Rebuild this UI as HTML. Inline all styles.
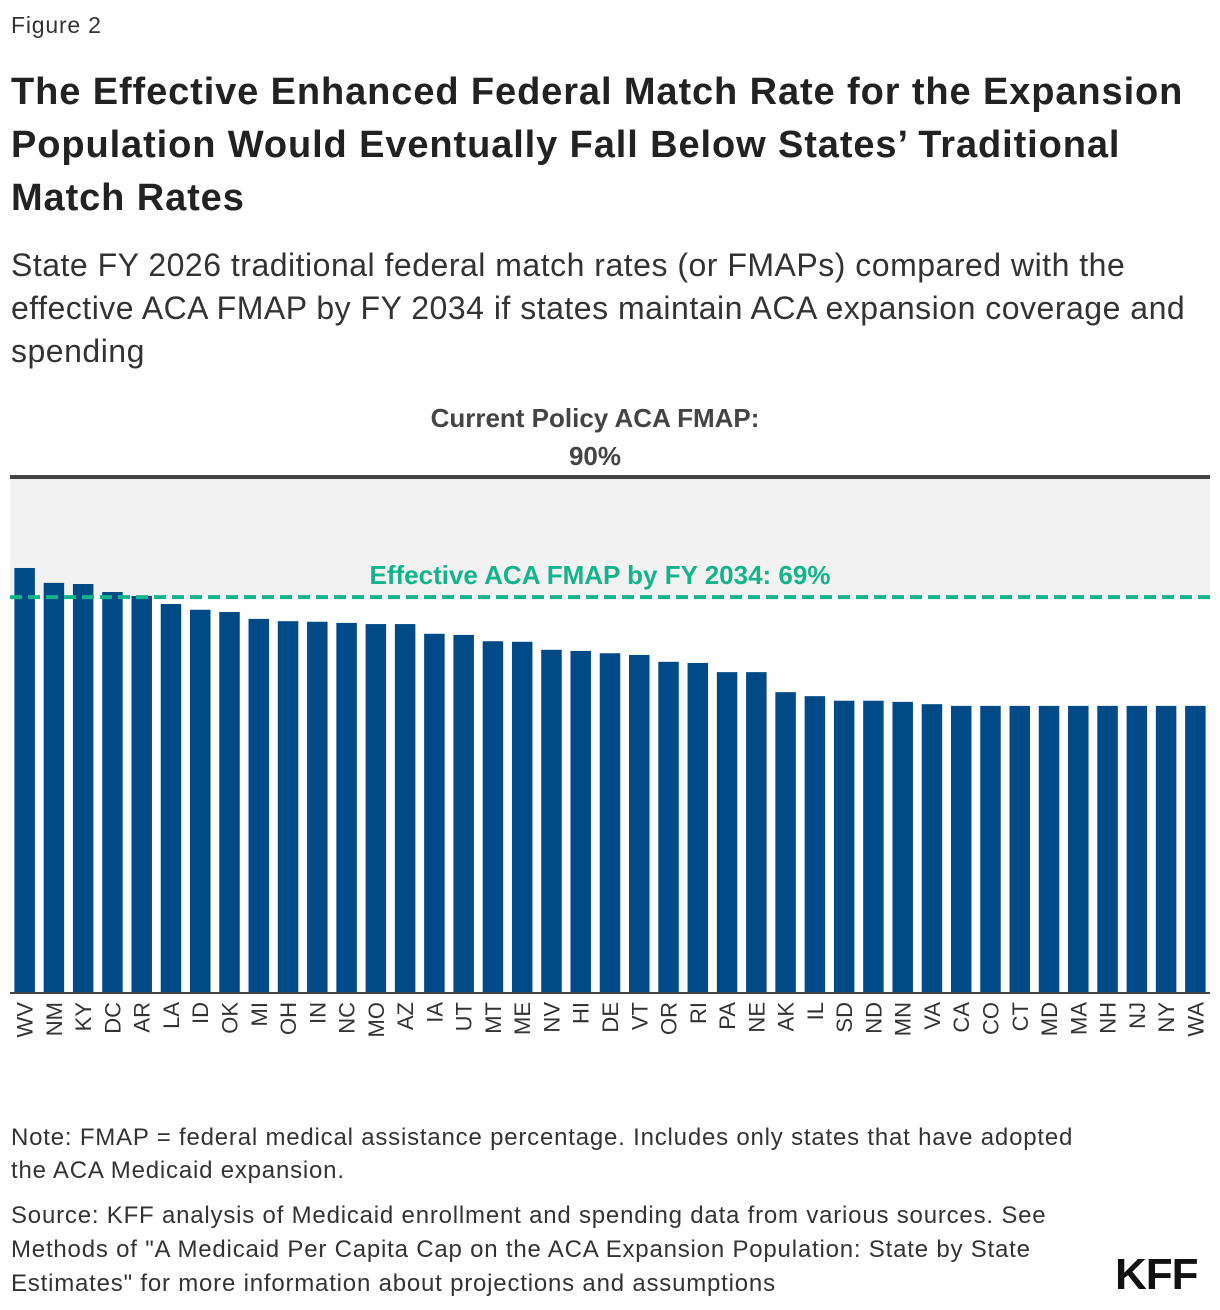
<!DOCTYPE html>
<html><head><meta charset="utf-8">
<style>
body{margin:0;width:1220px;height:1310px;background:#fff;font-family:"Liberation Sans",sans-serif;color:#222;position:relative;overflow:hidden}
.t{position:absolute;left:11px;margin:0;white-space:nowrap}
</style></head><body>
<div class="t" style="top:12px;font-size:23px;color:#333;letter-spacing:0.8px">Figure 2</div>
<h1 class="t" style="top:66px;font-size:38px;line-height:53px;font-weight:bold;color:#222;letter-spacing:0.9px">The Effective Enhanced Federal Match Rate for the Expansion<br>Population Would Eventually Fall Below States’ Traditional<br>Match Rates</h1>
<div class="t" style="top:244px;font-size:32px;line-height:43px;color:#333;letter-spacing:0.5px">State FY 2026 traditional federal match rates (or FMAPs) compared with the<br>effective ACA FMAP by FY 2034 if states maintain ACA expansion coverage and<br>spending</div>
<svg id="chart" width="1220" height="1090" style="position:absolute;left:0;top:0"></svg>
<div class="t" style="top:1121px;font-size:24px;line-height:33px;color:#333;letter-spacing:0.8px">Note: FMAP = federal medical assistance percentage. Includes only states that have adopted<br>the ACA Medicaid expansion.</div>
<div class="t" style="top:1199px;font-size:24px;line-height:34px;color:#333;letter-spacing:0.8px">Source: KFF analysis of Medicaid enrollment and spending data from various sources. See<br>Methods of "A Medicaid Per Capita Cap on the ACA Expansion Population: State by State<br>Estimates" for more information about projections and assumptions</div>
<div style="position:absolute;left:1115px;top:1250px;font-size:44px;font-weight:bold;color:#111;letter-spacing:-1px">KFF</div>
<script>
const states=["WV","NM","KY","DC","AR","LA","ID","OK","MI","OH","IN","NC","MO","AZ","IA","UT","MT","ME","NV","HI","DE","VT","OR","RI","PA","NE","AK","IL","SD","ND","MN","VA","CA","CO","CT","MD","MA","NH","NJ","NY","WA"];
const fmap=[74.1,71.5,71.3,69.9,69.2,67.8,66.8,66.4,65.2,64.8,64.7,64.5,64.3,64.3,62.6,62.4,61.3,61.2,59.8,59.6,59.2,58.9,57.7,57.5,55.9,55.9,52.4,51.7,50.9,50.9,50.7,50.3,50,50,50,50,50,50,50,50,50];
const currentRate=90;
const effectiveRate=69;
const NS="http://www.w3.org/2000/svg";
const svg=document.getElementById('chart');
const L=10,R=1210,base=992,pxPer=(992-477)/90;
const y=v=>base-v*pxPer;
const pitch=(R-L)/states.length;
function mk(t,a){const e=document.createElementNS(NS,t);for(const k in a)e.setAttribute(k,a[k]);svg.appendChild(e);return e;}
let e=mk('rect',{x:L,y:y(currentRate),width:R-L,height:y(effectiveRate)-y(currentRate),fill:'#f2f2f2'});


states.forEach((s,i)=>{
 const x=L+i*pitch+pitch*0.15;
 const b=mk('rect',{x:x,y:y(fmap[i]),width:pitch*0.7,height:base-y(fmap[i]),fill:'#004a87'});
 
 
 const cx=L+i*pitch+pitch/2;
 const t=mk('text',{x:0,y:0,transform:`translate(${cx+8},${base+10}) rotate(-90)`,'text-anchor':'end','font-size':'22','fill':'#333','font-family':'Liberation Sans, sans-serif'});
 t.textContent=s;
 
 
});
e=mk('line',{x1:L,x2:R,y1:y(currentRate),y2:y(currentRate),stroke:'#444',"stroke-width":4});


e=mk('line',{x1:L,x2:R,y1:y(effectiveRate),y2:y(effectiveRate),stroke:'#14b48a',"stroke-width":4,"stroke-dasharray":"12,6"});


e=mk('line',{x1:L,x2:R,y1:base+1,y2:base+1,stroke:'#444',"stroke-width":2});


e=mk('text',{x:595,y:y(currentRate)-50,'text-anchor':'middle','font-size':'26','font-weight':'bold','fill':'#444'});
e.textContent='Current Policy ACA FMAP:';


e=mk('text',{x:595,y:y(currentRate)-12,'text-anchor':'middle','font-size':'26','font-weight':'bold','fill':'#444'});
e.textContent=currentRate+'%';


e=mk('text',{x:600,y:y(effectiveRate)-13,'text-anchor':'middle','font-size':'26','font-weight':'bold','fill':'#14b48a'});
e.textContent='Effective ACA FMAP by FY 2034: '+effectiveRate+'%';


</script>
</body></html>
